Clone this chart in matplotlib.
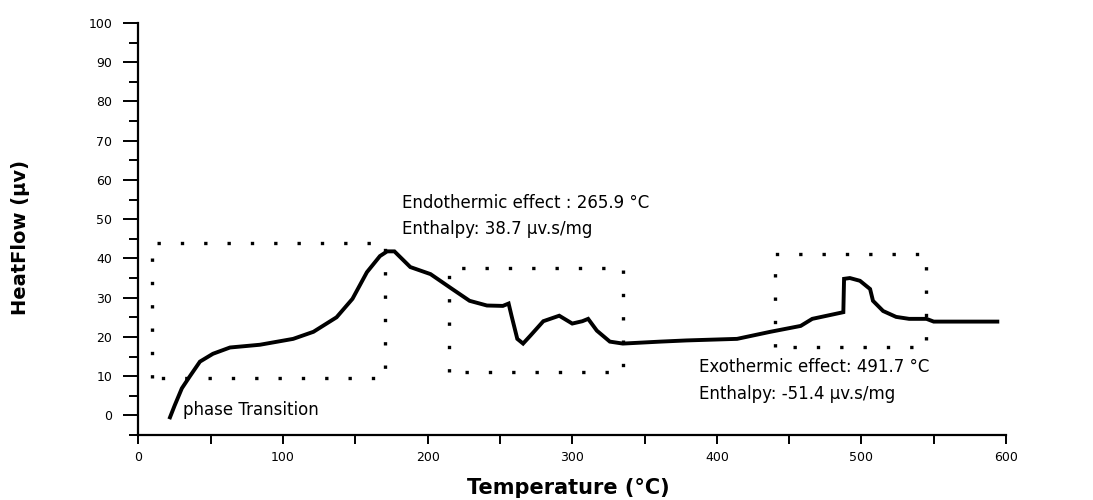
import matplotlib
matplotlib.use("Agg")
import matplotlib.pyplot as plt
from matplotlib.ticker import MultipleLocator


# DSC trace
temperature = [21.8, 25, 30, 35.6, 42.5, 51.5, 63.3, 84, 107, 121, 137, 148, 158, 167,
               172, 177, 188, 202, 217, 229, 241, 252, 256, 258, 262, 266, 271, 280,
               291, 300, 307, 311, 317, 326, 335, 361, 379, 414, 437, 458, 466, 485,
               487.5, 488, 492, 499, 506, 508, 515, 524, 533, 545, 550, 594]
heatflow = [-0.5, 2.5, 6.9, 10, 13.7, 15.7, 17.3, 18, 19.5, 21.3, 25, 29.7, 36.5, 40.6,
            41.8, 41.8, 37.8, 36, 32.2, 29.2, 28, 27.9, 28.5, 25.4, 19.5, 18.3, 20.3, 24,
            25.4, 23.4, 24, 24.6, 21.6, 18.8, 18.3, 18.8, 19.1, 19.5, 21.3, 22.8, 24.6, 26.1,
            26.3, 34.8, 35, 34.3, 32.2, 29.2, 26.6, 25.1, 24.6, 24.6, 23.9, 23.9]

# dotted region boxes: (x_left, x_right, y_bottom, y_top)
box_phase = (9.3, 170.5, 9.4, 44)
box_endo = (215, 335, 11, 37.6)
box_exo = (440, 545, 17.5, 41.1)

endo_text = "Endothermic effect : 265.9 °C\nEnthalpy: 38.7 µv.s/mg"
exo_text = "Exothermic effect: 491.7 °C\nEnthalpy: -51.4 µv.s/mg"
phase_text = "phase Transition"


def draw_box(ax, box):
    x0, x1, y0, y1 = box
    ax.plot([x0, x0, x1, x1, x0], [y0, y1, y1, y0, y0], color="black",
            linewidth=2.4, linestyle=(0, (1, 6)), clip_on=False)


fig = plt.figure(figsize=(10.93, 5.0), dpi=100)
ax = fig.add_axes([0.1267, 0.13, 0.7937, 0.824])

ax.plot(temperature, heatflow, color="black", linewidth=2.8, solid_joinstyle="miter")
for box in (box_phase, box_endo, box_exo):
    draw_box(ax, box)

txt = dict(fontsize=12, color="black", linespacing=1.6)
ax.text(182, 46.2, endo_text, ha="left", va="baseline", **txt)
ax.text(388, 4.3, exo_text, ha="left", va="baseline", **txt)
ax.text(31, 0, phase_text, ha="left", va="baseline", **txt)

ax.set_xlim(0, 600)
ax.set_ylim(-5, 100)
for side in ("top", "right"):
    ax.spines[side].set_visible(False)
for side in ("left", "bottom"):
    ax.spines[side].set_linewidth(1.6)

ax.xaxis.set_major_locator(MultipleLocator(100))
ax.xaxis.set_minor_locator(MultipleLocator(50))
ax.yaxis.set_major_locator(MultipleLocator(10))
ax.yaxis.set_minor_locator(MultipleLocator(5))
ax.set_yticks(range(0, 101, 10))
ax.tick_params(axis="y", which="major", length=11, width=1.4, labelsize=9, pad=8)
ax.tick_params(axis="y", which="minor", length=6.5, width=1.4)
ax.tick_params(axis="x", which="both", length=6.5, width=1.4, labelsize=9, pad=5)

ax.set_xlabel("Temperature (°C)", fontsize=15, fontweight="bold")
ax.set_ylabel("HeatFlow (µv)", fontsize=14, fontweight="bold")
ax.xaxis.set_label_coords(0.495, -0.104)
ax.yaxis.set_label_coords(-0.125, 0.48)

fig.savefig("out.png", dpi=100)
